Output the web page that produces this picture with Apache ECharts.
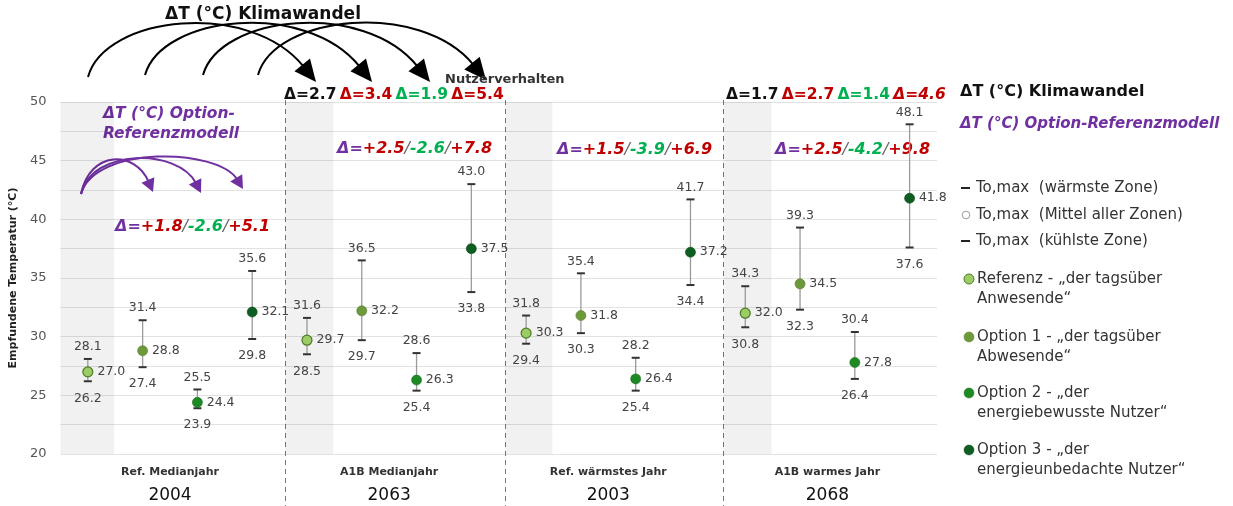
<!DOCTYPE html>
<html><head><meta charset="utf-8">
<script src="https://cdn.jsdelivr.net/npm/echarts@6/dist/echarts.min.js"></script>
<style>html,body{margin:0;padding:0;background:#fff}#c{width:1233px;height:506px}</style>
</head><body><div id="c"></div>
<script>
// ---------- DATA ----------
const groupNames = ['Ref. Medianjahr', 'A1B Medianjahr', 'Ref. wärmstes Jahr', 'A1B warmes Jahr'];
const groupYears = ['2004', '2063', '2003', '2068'];
const optionNames = ['Referenz', 'Option 1', 'Option 2', 'Option 3'];
const yTicks = [20, 25, 30, 35, 40, 45, 50];

// mean / warmest zone / coolest zone, per group (2004, 2063, 2003, 2068)
const refMean  = [27.0, 29.7, 30.3, 32.0];
const refMax   = [28.1, 31.6, 31.8, 34.3];
const refMin   = [26.2, 28.5, 29.4, 30.8];
const opt1Mean = [28.8, 32.2, 31.8, 34.5];
const opt1Max  = [31.4, 36.5, 35.4, 39.3];
const opt1Min  = [27.4, 29.7, 30.3, 32.3];
const opt2Mean = [24.4, 26.3, 26.4, 27.8];
const opt2Max  = [25.5, 28.6, 28.2, 30.4];
const opt2Min  = [23.9, 25.4, 25.4, 26.4];
const opt3Mean = [32.1, 37.5, 37.2, 41.8];
const opt3Max  = [35.6, 43.0, 41.7, 48.1];
const opt3Min  = [29.8, 33.8, 34.4, 37.6];

// ΔT Klimawandel (per option) shown above groups 2063 and 2068
const climDelta2063 = ['2.7', '3.4', '1.9', '5.4'];
const climDelta2068 = ['1.7', '2.7', '1.4', '4.6'];
// ΔT Option - Referenzmodell (Option 1 / Option 2 / Option 3) per group
const optDelta2004 = ['+1.8', '-2.6', '+5.1'];
const optDelta2063 = ['+2.5', '-2.6', '+7.8'];
const optDelta2003 = ['+1.5', '-3.9', '+6.9'];
const optDelta2068 = ['+2.5', '-4.2', '+9.8'];

// ---------- STYLE / LAYOUT ----------
const means = [refMean, opt1Mean, opt2Mean, opt3Mean];
const maxs = [refMax, opt1Max, opt2Max, opt3Max];
const mins = [refMin, opt1Min, opt2Min, opt3Min];
const colors = ['#9ccc65', '#6c9a3a', '#1e8a26', '#0d5e20'];
const borders = ['#4d7a26', '#557a2c', '#17701e', '#0a4a18'];
const dividers = [4.1, 8.12, 12.1];
const FONT = '"DejaVu Sans", Verdana, sans-serif';
const RED = '#c00000', GREEN = '#00b050', PURPLE = '#7030a0', BLACK = '#111';

function xPos(g, o) { return 4 * g + o + 0.5; }

const barData = [];
for (let o = 0; o < 4; o++) for (let gi = 0; gi < 4; gi++) barData.push([xPos(gi, o), mins[o][gi], maxs[o][gi]]);

const bandData = [[{ xAxis: 0 }, { xAxis: 0.98 }]];
dividers.forEach((d, i) => bandData.push([{ xAxis: d }, { xAxis: 4 * (i + 1) + 0.98 }]));

const chart = echarts.init(document.getElementById('c'), null, { renderer: 'canvas' });

const seriesList = [{
  type: 'custom',
  xAxisIndex: 0, yAxisIndex: 0,
  data: barData,
  encode: { x: 0, y: [1, 2] },
  z: 2,
  silent: true,
  markArea: { silent: true, itemStyle: { color: 'rgba(0,0,0,0.055)' }, data: bandData },
  renderItem: function (params, api) {
    const x = api.value(0), lo = api.value(1), hi = api.value(2);
    const pLo = api.coord([x, lo]), pHi = api.coord([x, hi]);
    const cw = 4;
    return {
      type: 'group', children: [
        { type: 'line', shape: { x1: pHi[0], y1: pHi[1], x2: pLo[0], y2: pLo[1] }, style: { stroke: '#9a9a9a', lineWidth: 1.3 } },
        { type: 'line', shape: { x1: pHi[0] - cw, y1: pHi[1], x2: pHi[0] + cw, y2: pHi[1] }, style: { stroke: '#333', lineWidth: 2 } },
        { type: 'line', shape: { x1: pLo[0] - cw, y1: pLo[1], x2: pLo[0] + cw, y2: pLo[1] }, style: { stroke: '#333', lineWidth: 2 } },
        { type: 'text', style: { text: hi.toFixed(1), x: pHi[0], y: pHi[1] - 12, textAlign: 'center', textVerticalAlign: 'middle', fill: '#444', font: '12.5px ' + FONT } },
        { type: 'text', style: { text: lo.toFixed(1), x: pLo[0], y: pLo[1] + 17, textAlign: 'center', textVerticalAlign: 'middle', fill: '#444', font: '12.5px ' + FONT } }
      ]
    };
  }
}];
for (let o = 0; o < 4; o++) {
  seriesList.push({
    type: 'scatter', name: optionNames[o], xAxisIndex: 0, yAxisIndex: 0, z: 3,
    symbol: 'circle', symbolSize: 10,
    itemStyle: { color: colors[o], borderColor: borders[o], borderWidth: o === 0 ? 1.2 : 0.6, opacity: 1 },
    data: means[o].map((v, gi) => [xPos(gi, o), v]),
    label: { show: true, position: 'right', distance: 4, formatter: p => p.value[1].toFixed(1), color: '#444', fontSize: 12.5, fontFamily: FONT }
  });
}

chart.setOption({
  animation: false,
  grid: { left: 58.5, right: 296, top: 102, bottom: 52, containLabel: false },
  xAxis: [
    { type: 'value', min: 0, max: 16, show: false },
    {
      type: 'category', data: groupNames, position: 'bottom',
      axisLine: { show: false }, axisTick: { show: false }, splitLine: { show: false },
      axisLabel: {
        margin: 8, interval: 0,
        formatter: (v, i) => '{a|' + v + '}\n{b|' + groupYears[i] + '}',
        rich: {
          a: { fontFamily: FONT, fontWeight: 'bold', fontSize: 11, color: '#333', lineHeight: 20 },
          b: { fontFamily: FONT, fontSize: 17, color: '#111', lineHeight: 28 }
        }
      }
    }
  ],
  yAxis: {
    type: 'value', min: 20, max: 50, interval: 2.5,
    name: 'Empfundene Temperatur (°C)', nameLocation: 'middle', nameRotate: 90, nameGap: 40,
    nameTextStyle: { fontFamily: FONT, fontWeight: 'bold', fontSize: 11, color: '#222' },
    axisLine: { show: false }, axisTick: { show: false },
    axisLabel: { margin: 14, color: '#555', fontSize: 13, fontFamily: FONT,
      formatter: v => (yTicks.indexOf(v) >= 0 ? String(v) : '') },
    splitLine: { lineStyle: { color: '#e2e2e2', width: 1.2 } }
  },
  series: seriesList
});

// ---------- ANNOTATIONS ----------
function toPx(x, y) { return chart.convertToPixel({ gridIndex: 0 }, [x, y]); }
function arrow(p0, c1, c2, tip, color, lw, hl, hw) {
  const dx = tip[0] - c2[0], dy = tip[1] - c2[1], L = Math.hypot(dx, dy);
  const ux = dx / L, uy = dy / L;
  const base = [tip[0] - ux * hl, tip[1] - uy * hl];
  return [
    { type: 'bezierCurve', silent: true, shape: { x1: p0[0], y1: p0[1], cpx1: c1[0], cpy1: c1[1], cpx2: c2[0], cpy2: c2[1], x2: base[0] + ux * 2, y2: base[1] + uy * 2 }, style: { stroke: color, lineWidth: lw, fill: 'none' } },
    { type: 'polygon', silent: true, shape: { points: [tip, [base[0] - uy * hw, base[1] + ux * hw], [base[0] + uy * hw, base[1] - ux * hw]] }, style: { fill: color } }
  ];
}
function txt(x, y, text, font, fill, align) {
  return { type: 'text', silent: true, style: { x: x, y: y, text: text, font: font, fill: fill, textAlign: align || 'left', textVerticalAlign: 'middle' } };
}
function richTxt(x, y, text, rich) {
  return { type: 'text', silent: true, style: { x: x, y: y, text: text, rich: rich, textAlign: 'left', textVerticalAlign: 'middle' } };
}

const els = [];
dividers.forEach(d => {
  const X = Math.round(toPx(d, 50)[0]) + 0.5;
  els.push({ type: 'line', silent: true, shape: { x1: X, y1: 100, x2: X, y2: 506 }, style: { stroke: '#777', lineWidth: 1, lineDash: [5, 4] } });
});

// Klimawandel arcs
els.push(txt(263, 15, 'ΔT (°C) Klimawandel', 'bold 17px ' + FONT, BLACK, 'center'));
const arcs = [
  [[88, 77], [105, 15], [250, 0], [316, 82]],
  [[145, 75], [162, 15], [306, 0], [372, 82]],
  [[203, 75], [220, 15], [364, 0], [430, 82]],
  [[258, 75], [275, 15], [420, 0], [486, 80]]
];
arcs.forEach(a => els.push(...arrow(a[0], a[1], a[2], a[3], '#000', 2, 22, 10)));
els.push(txt(445, 80, 'Nutzerverhalten', 'bold 13px ' + FONT, '#333'));

const CF = '15.5px ' + FONT;
const climRich = {
  k: { font: 'bold ' + CF, fill: BLACK },
  r: { font: 'bold ' + CF, fill: RED },
  ri: { font: 'italic bold ' + CF, fill: RED },
  gr: { font: 'bold ' + CF, fill: GREEN }
};
function climText(vals, lastItalic) {
  return '{k|Δ=' + vals[0] + '} {r|Δ=' + vals[1] + '} {gr|Δ=' + vals[2] + '} {' + (lastItalic ? 'ri' : 'r') + '|Δ=' + vals[3] + '}';
}
els.push(richTxt(284, 95, climText(climDelta2063, false), climRich));
els.push(richTxt(726, 95, climText(climDelta2068, true), climRich));

// Option - Referenzmodell arcs
els.push(txt(169, 114, 'ΔT (°C) Option-', 'italic bold 15.5px ' + FONT, PURPLE, 'center'));
els.push(txt(171, 134, 'Referenzmodell', 'italic bold 15.5px ' + FONT, PURPLE, 'center'));
const parcs = [
  [[81, 194], [90, 150], [135, 150], [153, 192]],
  [[81, 194], [92, 148], [178, 148], [201, 193]],
  [[81, 194], [95, 145], [218, 148], [243, 189]]
];
parcs.forEach(a => els.push(...arrow(a[0], a[1], a[2], a[3], PURPLE, 2, 13, 7)));

const OF = '16px ' + FONT;
const optRich = {
  p: { font: 'italic bold ' + OF, fill: PURPLE },
  r: { font: 'italic bold ' + OF, fill: RED },
  gr: { font: 'italic bold ' + OF, fill: GREEN },
  s: { font: 'italic ' + OF, fill: '#666' }
};
function optText(v) { return '{p|Δ=}{r|' + v[0] + '}{s|/}{gr|' + v[1] + '}{s|/}{r|' + v[2] + '}'; }
els.push(richTxt(115, 227, optText(optDelta2004), optRich));
els.push(richTxt(337, 149, optText(optDelta2063), optRich));
els.push(richTxt(557, 150, optText(optDelta2003), optRich));
els.push(richTxt(775, 150, optText(optDelta2068), optRich));

// Right legend
els.push(txt(960, 92, 'ΔT (°C) Klimawandel', 'bold 16px ' + FONT, BLACK));
els.push(txt(960, 124, 'ΔT (°C) Option-Referenzmodell', 'italic bold 15px ' + FONT, PURPLE));
const LF = '15px ' + FONT, LC = '#333';
els.push({ type: 'line', silent: true, shape: { x1: 961, y1: 188, x2: 970, y2: 188 }, style: { stroke: '#222', lineWidth: 2 } });
els.push(txt(976, 188, 'To,max  (wärmste Zone)', LF, LC));
els.push({ type: 'circle', silent: true, shape: { cx: 966, cy: 215, r: 3.8 }, style: { fill: '#fff', stroke: '#999', lineWidth: 1 } });
els.push(txt(976, 215, 'To,max  (Mittel aller Zonen)', LF, LC));
els.push({ type: 'line', silent: true, shape: { x1: 961, y1: 241, x2: 970, y2: 241 }, style: { stroke: '#222', lineWidth: 2 } });
els.push(txt(976, 241, 'To,max  (kühlste Zone)', LF, LC));
const legItems = [
  ['Referenz - „der tagsüber', 'Anwesende“', 279],
  ['Option 1 - „der tagsüber', 'Abwesende“', 337],
  ['Option 2 - „der', 'energiebewusste Nutzer“', 393],
  ['Option 3 - „der', 'energieunbedachte Nutzer“', 450]
];
legItems.forEach((it, i) => {
  els.push({ type: 'circle', silent: true, shape: { cx: 969, cy: it[2], r: 5 }, style: { fill: colors[i], stroke: borders[i], lineWidth: i === 0 ? 1 : 0.5 } });
  els.push(txt(977, it[2], it[0], LF, LC));
  els.push(txt(977, it[2] + 20, it[1], LF, LC));
});

chart.setOption({ graphic: { elements: els } });
</script>
</body></html>
